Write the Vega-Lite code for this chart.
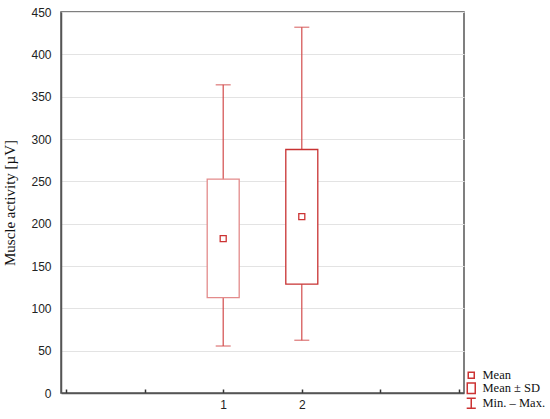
{
  "$schema": "https://vega.github.io/schema/vega-lite/v6.json",
  "width": 403,
  "height": 381,
  "autosize": {"type": "none"},
  "padding": {"left": 61, "top": 12, "right": 86, "bottom": 26},
  "background": "white",
  "config": {
    "view": {"stroke": "#555555", "strokeWidth": 1.5},
    "axis": {"labelFont": "Liberation Sans", "labelFontSize": 12, "labelColor": "#222222"}
  },
  "data": {
    "values": [
      {"group": 1, "min": 55.5, "sdlow": 112.7, "mean": 182.4, "sdhigh": 252.6, "max": 364, "stat": "Mean"},
      {"group": 2, "min": 62.3, "sdlow": 128.5, "mean": 208.4, "sdhigh": 287.6, "max": 432, "stat": "Mean"}
    ]
  },
  "encoding": {
    "x": {
      "field": "group",
      "type": "quantitative",
      "scale": {"domain": [-1, 4], "nice": false, "zero": false},
      "axis": {
        "title": null,
        "values": [-1, 0, 1, 2, 3, 4],
        "labelExpr": "datum.value == 1 || datum.value == 2 ? datum.label : ''",
        "grid": false,
        "domainColor": "#555555",
        "domainWidth": 1.5,
        "ticks": true,
        "tickColor": "#333333",
        "tickWidth": 1.5,
        "tickSize": -4,
        "labelPadding": 10,
        "labelFlush": false
      }
    }
  },
  "layer": [
    {
      "mark": {"type": "rule", "color": "#d24b4b", "strokeWidth": 1.2},
      "encoding": {
        "y": {
          "field": "min",
          "type": "quantitative",
          "scale": {"domain": [0, 450], "nice": false},
          "axis": {
            "title": "Muscle activity [µV]",
            "titleFont": "Liberation Serif",
            "titleFontSize": 15,
            "titleFontWeight": "normal",
            "titleColor": "#111111",
            "titlePadding": 13,
            "values": [0, 50, 100, 150, 200, 250, 300, 350, 400, 450],
            "grid": true,
            "gridColor": "#e3e3e3",
            "gridWidth": 1.2,
            "ticks": false,
            "domainColor": "#555555",
            "domainWidth": 1.5,
            "labelPadding": 10
          }
        },
        "y2": {"field": "max"}
      }
    },
    {
      "mark": {"type": "tick", "orient": "horizontal", "color": "#d24b4b", "size": 15, "thickness": 1.3},
      "encoding": {"y": {"field": "min", "type": "quantitative"}}
    },
    {
      "mark": {"type": "tick", "orient": "horizontal", "color": "#d24b4b", "size": 15, "thickness": 1.3},
      "encoding": {"y": {"field": "max", "type": "quantitative"}}
    },
    {
      "mark": {"type": "bar", "size": 32, "fill": "white", "strokeWidth": 1.3},
      "encoding": {
        "y": {"field": "sdlow", "type": "quantitative"},
        "y2": {"field": "sdhigh"},
        "stroke": {
          "field": "group",
          "type": "nominal",
          "scale": {"domain": [1, 2], "range": ["#e38b8b", "#c83232"]},
          "legend": null
        }
      }
    },
    {
      "mark": {"type": "point", "filled": false, "fill": "white", "strokeWidth": 1.3, "size": 49, "color": "#cc3333", "opacity": 1},
      "encoding": {
        "y": {"field": "mean", "type": "quantitative"},
        "shape": {
          "field": "stat",
          "type": "nominal",
          "scale": {
            "domain": ["Mean", "Mean ± SD", "Min. – Max."],
            "range": ["M-0.86,-0.86H0.86V0.86H-0.86Z", "M-1.14,-1.5H1.14V1.5H-1.14Z", "M-1.3,-1.43H1.3M0,-1.43V1.43M-1.3,1.43H1.3"]
          },
          "legend": {
            "title": null,
            "orient": "none",
            "legendX": 404,
            "legendY": 357,
            "labelFont": "Liberation Serif",
            "labelFontSize": 12.5,
            "labelColor": "#111111",
            "symbolSize": 49,
            "rowPadding": -2,
            "labelOffset": 5,
            "symbolOffset": 0,
            "encode": {
              "symbols": {
                "update": {
                  "stroke": {"value": "#d24b4b"},
                  "fill": {"value": "white"},
                  "strokeWidth": {"value": 1.3},
                  "opacity": {"value": 1}
                }
              }
            }
          }
        }
      }
    }
  ]
}
